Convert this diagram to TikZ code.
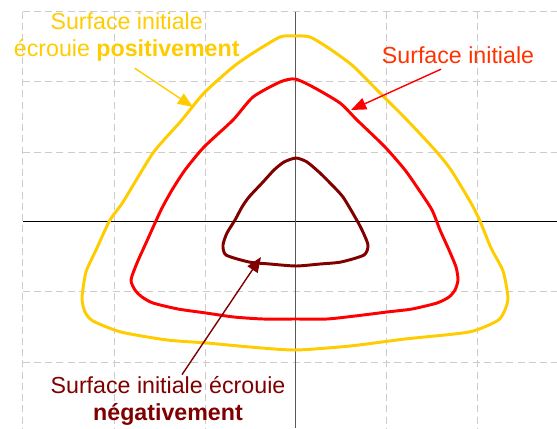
\documentclass[tikz,border=0pt]{standalone}
\usepackage{fontspec}
\setmainfont{Liberation Sans}
\usetikzlibrary{arrows.meta,calc}
\definecolor{posyellow}{RGB}{255,204,0}
\definecolor{initred}{RGB}{255,0,0}
\definecolor{inittext}{RGB}{255,51,0}
\definecolor{negmaroon}{RGB}{128,0,0}
\definecolor{gridgray}{RGB}{204,204,204}
\tikzset{
  grd/.style={draw=gridgray,line width=0.7pt,dash pattern=on 5pt off 3pt},
  axe/.style={line width=0.7pt},
  surf/.style={line width=2.1pt,line join=round},
  lbl/.style={font=\fontsize{16.5}{19.5}\selectfont,align=center,inner sep=1pt},
  arr/.style={-{Triangle[length=0.38cm,width=0.3cm]},line width=1pt},
}

\begin{document}
\begin{tikzpicture}[x=0.025cm,y=-0.025cm]
\useasboundingbox (0,0) rectangle (557,428);
% grid
\foreach \gx in {22.7,114,205,386.5,477}
  \draw[grd] (\gx,11.7) -- (\gx,428);
\foreach \gy in {11.7,81.8,152,291.5,362}
  \draw[grd] (22.7,\gy) -- (557,\gy);
% axes
\draw[axe] (22.7,221) -- (557,221);
\draw[axe,draw=black!65] (295.7,11.7) -- (295.7,428);
% surfaces
\draw[surf,draw=posyellow] plot[smooth cycle,tension=0.4] coordinates {
  (295,36) (310,37) (330,49) (353,66) (380,93) (407,120) (435,150) (451,170)
  (471,203) (480,221) (491,248) (503,271) (508,298) (504,312) (497,321) (469,332)
  (405,339) (350,346) (295,350) (250,347) (207,343) (167,340) (121,332) (93,321)
  (85,312) (82,298) (86,272) (96,250) (110,220) (123,202) (153,153) (181,121)
  (204,93) (233,67) (253,53) (280,37)};
\draw[surf,draw=initred] plot[smooth cycle,tension=0.4] coordinates {
  (295,79) (313,87) (340,103) (357,120) (385,147) (405,170) (419,190) (432,210)
  (440,230) (449,250) (456,267) (458,280) (455,290) (449,297) (437,303) (412,309)
  (387,312) (355,316) (327,319) (296,319) (263,319) (234,317) (206,313) (178,309)
  (153,303) (142,297) (135,290) (131,280) (137,263) (146,243) (155,223) (162,208)
  (172,190) (185,170) (204,147) (233,120) (253,97) (280,82)};
\draw[surf,draw=negmaroon] plot[smooth cycle,tension=0.4] coordinates {
  (296,158) (307,162) (320,173) (332,185) (343,197) (355,217) (362,230) (368,245)
  (364,255) (341,262) (320,264) (296,266) (270,264) (249,262) (226,255) (223,245)
  (227,233) (235,220) (242,207) (249,197) (263,182) (274,170) (284,162)};
% labels
\node[lbl,text=posyellow] (poslbl) at (126.7,37) {Surface initiale\\écrouie \textbf{positivement}};
\node[lbl,text=inittext] (initlbl) at (458,55) {Surface initiale};
\node[lbl,text=negmaroon] (neglbl) at (168,401) {Surface initiale écrouie\\\textbf{négativement}};
\coordinate (postip) at (193,107);
\coordinate (inittip) at (351,110);
\coordinate (negtip) at (261,257);
\draw[arr,draw=posyellow,fill=posyellow] ($(poslbl.south)+(8,5)$) -- (postip);
\draw[arr,draw=initred,fill=initred] ($(initlbl.south)+(-17,4)$) -- (inittip);
\draw[arr,draw=negmaroon,fill=negmaroon] ($(neglbl.north)+(14,0)$) -- (negtip);
\end{tikzpicture}
\end{document}
